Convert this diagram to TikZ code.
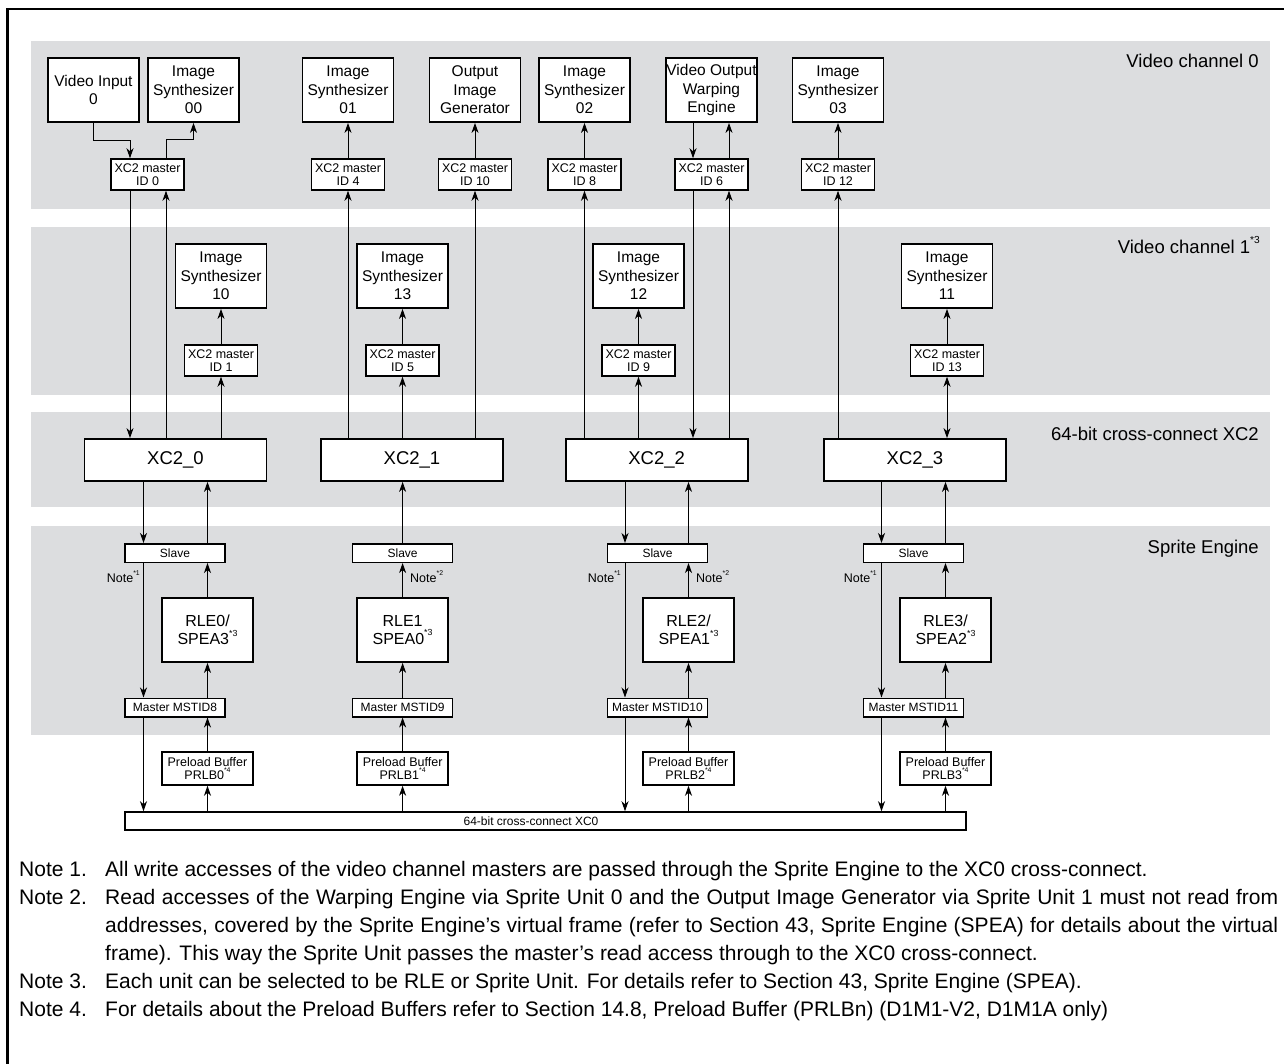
\documentclass[tikz,border=0pt]{standalone}
\usepackage{fontspec}
\setmainfont{Liberation Sans}
\usepackage{tikz}
\usetikzlibrary{arrows.meta, positioning}
\definecolor{bandgray}{RGB}{220,221,223}
\newcommand{\nsup}[1]{\raisebox{0.55em}{\scalebox{0.55}{#1}}}

\begin{document}
\begin{tikzpicture}[x=1pt, y=-1pt,
  band/.style={fill=bandgray},
  unit/.style={draw, line width=1.8pt, fill=white, minimum width=91pt, minimum height=64pt,
               inner sep=0pt, align=center, font=\fontsize{15.5}{18.5}\selectfont},
  mid/.style={draw, line width=1.5pt, fill=white, minimum width=73pt, minimum height=31pt,
              inner sep=0pt, align=center, font=\fontsize{12.5}{12.5}\selectfont},
  xcbox/.style={draw, line width=1.8pt, fill=white, minimum width=182pt, minimum height=42pt,
                inner sep=0pt, font=\fontsize{18.5}{22}\selectfont},
  port/.style={draw, line width=1.5pt, fill=white, minimum width=100pt, minimum height=18.5pt,
               inner sep=0pt, font=\fontsize{12}{14}\selectfont},
  rle/.style={unit, font=\fontsize{16}{18.5}\selectfont},
  plb/.style={mid, minimum width=91pt, minimum height=33pt},
  lbl/.style={inner sep=0pt, anchor=base east, font=\fontsize{18.5}{22}\selectfont},
  tag/.style={inner sep=0pt, font=\fontsize{12.5}{14}\selectfont},
  note/.style={inner sep=0pt, anchor=base west, font=\fontsize{21}{24}\selectfont},
  arr/.style={-{Stealth[length=10pt, width=7pt, inset=3pt]}, line width=0.9pt},
  both/.style={{Stealth[length=10pt, width=7pt, inset=3pt]}-{Stealth[length=10pt, width=7pt, inset=3pt]},
               line width=0.9pt}
]

\useasboundingbox (0,0) rectangle (1284,1064);

%% Frame
\draw[line width=2.5pt, line join=miter] (7.5,1064) -- (7.5,9) -- (1284,9);

%% Bands
\fill[band] (31,41)  rectangle (1270,209);
\fill[band] (31,227) rectangle (1270,395);
\fill[band] (31,412) rectangle (1270,507);
\fill[band] (31,526) rectangle (1270,735);

\node[lbl] (vc0lbl) at (1259,68)  {Video channel 0};
\node[lbl] (vc1lbl) at (1260,254) {Video channel 1\nsup{*3}};
\node[lbl] (xc2lbl) at (1259,440) {64-bit cross-connect XC2};
\node[lbl] (spelbl) at (1259,553) {Sprite Engine};

%% Video channel 0 units
\node[unit] (vin)  at (93.5,90)  {Video Input\\0};
\node[unit] (is00) at (193.5,90) {Image\\Synthesizer\\00};
\node[unit] (is01) at (348,90)   {Image\\Synthesizer\\01};
\node[unit] (oig)  at (475,90)   {Output\\Image\\Generator};
\node[unit] (is02) at (584.5,90) {Image\\Synthesizer\\02};
\node[unit] (vowe) at (711.5,90) {Video Output\\Warping\\Engine};
\node[unit] (is03) at (838,90)   {Image\\Synthesizer\\03};

%% Video channel 0 masters
\node[mid] (id0)  at (147.5,174.5) {XC2 master\\ID 0};
\node[mid] (id4)  at (348,174.5)   {XC2 master\\ID 4};
\node[mid] (id10) at (475,174.5)   {XC2 master\\ID 10};
\node[mid] (id8)  at (584.5,174.5) {XC2 master\\ID 8};
\node[mid] (id6)  at (711.5,174.5) {XC2 master\\ID 6};
\node[mid] (id12) at (838,174.5)   {XC2 master\\ID 12};

%% Video channel 1 units and masters
\node[unit] (is10) at (221,276)   {Image\\Synthesizer\\10};
\node[unit] (is13) at (402.5,276) {Image\\Synthesizer\\13};
\node[unit] (is12) at (638.5,276) {Image\\Synthesizer\\12};
\node[unit] (is11) at (947,276)   {Image\\Synthesizer\\11};
\node[mid] (id1)  at (221,360.5)   {XC2 master\\ID 1};
\node[mid] (id5)  at (402.5,360.5) {XC2 master\\ID 5};
\node[mid] (id9)  at (638.5,360.5) {XC2 master\\ID 9};
\node[mid] (id13) at (947,360.5)   {XC2 master\\ID 13};

%% Cross-connect XC2
\node[xcbox] (xc20) at (175.5,460) {XC2\_0};
\node[xcbox] (xc21) at (412,460)   {XC2\_1};
\node[xcbox] (xc22) at (656.6,460) {XC2\_2};
\node[xcbox] (xc23) at (915,460)   {XC2\_3};

%% Sprite Engine
\node[port] (slave0) at (175,553)   {Slave};
\node[port] (slave1) at (402.6,553) {Slave};
\node[port] (slave2) at (657.5,553) {Slave};
\node[port] (slave3) at (913.5,553) {Slave};
\node[rle] (rle0) at (207.5,630) {RLE0/\\SPEA3\nsup{*3}};
\node[rle] (rle1) at (402.6,630) {RLE1\\SPEA0\nsup{*3}};
\node[rle] (rle2) at (688.5,630) {RLE2/\\SPEA1\nsup{*3}};
\node[rle] (rle3) at (945.5,630) {RLE3/\\SPEA2\nsup{*3}};
\node[port] (mst0) at (175,707.5)   {Master MSTID8};
\node[port] (mst1) at (402.6,707.5) {Master MSTID9};
\node[port] (mst2) at (657.5,707.5) {Master MSTID10};
\node[port] (mst3) at (913.5,707.5) {Master MSTID11};

%% Preload buffers and XC0
\node[plb] (plb0) at (207.5,768.5) {Preload Buffer\\PRLB0\nsup{*4}};
\node[plb] (plb1) at (402.6,768.5) {Preload Buffer\\PRLB1\nsup{*4}};
\node[plb] (plb2) at (688.5,768.5) {Preload Buffer\\PRLB2\nsup{*4}};
\node[plb] (plb3) at (945.5,768.5) {Preload Buffer\\PRLB3\nsup{*4}};
\node[port, minimum width=841pt, minimum height=18pt,
      label={[tag, font=\fontsize{12}{14}\selectfont, xshift=-14.5pt]center:64-bit cross-connect XC0}]
      (xcz) at (545.5,821) {};

%% Line positions
\coordinate (a0) at (130,0);
\coordinate (b0) at (166,0);
\coordinate (a2) at (693,0);
\coordinate (b2) at (729,0);
\coordinate (d0) at (143.5,0);
\coordinate (d2) at (625,0);
\coordinate (d3) at (881.5,0);

%% Video channel 0 arrows
\draw[arr] (vin.south) -- ++(0,18) -| (id0.north -| a0);
\draw[arr] (id0.north -| b0) -- ++(0,-19) -| (is00.south);
\draw[arr] (id4.north) -- (is01.south);
\draw[arr] (id10.north) -- (oig.south);
\draw[arr] (id8.north) -- (is02.south);
\draw[arr] (vowe.south -| a2) -- (id6.north -| a2);
\draw[arr] (id6.north -| b2) -- (vowe.south -| b2);
\draw[arr] (id12.north) -- (is03.south);

%% Video channel 1 arrows
\draw[arr] (id1.north) -- (is10.south);
\draw[arr] (id5.north) -- (is13.south);
\draw[arr] (id9.north) -- (is12.south);
\draw[arr] (id13.north) -- (is11.south);

%% XC2 arrows
\draw[arr] (id0.south -| a0) -- (xc20.north -| a0);
\draw[arr] (xc20.north -| b0) -- (id0.south -| b0);
\draw[arr] (xc20.north -| id1) -- (id1.south);
\draw[arr] (xc21.north -| id4) -- (id4.south);
\draw[arr] (xc21.north -| id5) -- (id5.south);
\draw[arr] (xc21.north -| id10) -- (id10.south);
\draw[arr] (xc22.north -| id8) -- (id8.south);
\draw[arr] (xc22.north -| id9) -- (id9.south);
\draw[arr] (id6.south -| a2) -- (xc22.north -| a2);
\draw[arr] (xc22.north -| b2) -- (id6.south -| b2);
\draw[arr] (xc23.north -| id12) -- (id12.south);
\draw[both] (xc23.north -| id13) -- (id13.south);

%% Sprite Engine arrows
\draw[arr] (xc20.south -| d0) -- (slave0.north -| d0);
\draw[arr] (slave0.north -| rle0) -- (xc20.south -| rle0);
\draw[arr] (slave0.south -| d0) -- (mst0.north -| d0);
\draw[arr] (mst0.south -| d0) -- (xcz.north -| d0);
\draw[arr] (rle0.north) -- (slave0.south -| rle0);
\draw[arr] (mst0.north -| rle0) -- (rle0.south);
\draw[arr] (plb0.north) -- (mst0.south -| plb0);
\draw[arr] (xcz.north -| plb0) -- (plb0.south);

\draw[arr] (slave1.north -| rle1) -- (xc21.south -| rle1);
\draw[arr] (rle1.north) -- (slave1.south -| rle1);
\draw[arr] (mst1.north -| rle1) -- (rle1.south);
\draw[arr] (plb1.north) -- (mst1.south -| plb1);
\draw[arr] (xcz.north -| plb1) -- (plb1.south);

\draw[arr] (xc22.south -| d2) -- (slave2.north -| d2);
\draw[arr] (slave2.north -| rle2) -- (xc22.south -| rle2);
\draw[arr] (slave2.south -| d2) -- (mst2.north -| d2);
\draw[arr] (mst2.south -| d2) -- (xcz.north -| d2);
\draw[arr] (rle2.north) -- (slave2.south -| rle2);
\draw[arr] (mst2.north -| rle2) -- (rle2.south);
\draw[arr] (plb2.north) -- (mst2.south -| plb2);
\draw[arr] (xcz.north -| plb2) -- (plb2.south);

\draw[arr] (xc23.south -| d3) -- (slave3.north -| d3);
\draw[arr] (slave3.north -| rle3) -- (xc23.south -| rle3);
\draw[arr] (slave3.south -| d3) -- (mst3.north -| d3);
\draw[arr] (mst3.south -| d3) -- (xcz.north -| d3);
\draw[arr] (rle3.north) -- (slave3.south -| rle3);
\draw[arr] (mst3.north -| rle3) -- (rle3.south);
\draw[arr] (plb3.north) -- (mst3.south -| plb3);
\draw[arr] (xcz.north -| plb3) -- (plb3.south);

%% Note tags
\node[tag, anchor=east] (tag0)  at (140,577) {Note\nsup{*1}};
\node[tag, anchor=west] (tag1)  at (410,577) {Note\nsup{*2}};
\node[tag, anchor=east] (tag2a) at (621,577) {Note\nsup{*1}};
\node[tag, anchor=west] (tag2b) at (696,577) {Note\nsup{*2}};
\node[tag, anchor=east] (tag3)  at (877,577) {Note\nsup{*1}};

%% Notes
\node[note] (note1) at (19,876)  {Note 1.};
\node[note] (note2) at (19,904)  {Note 2.};
\node[note] (note3) at (19,988)  {Note 3.};
\node[note] (note4) at (19,1016) {Note 4.};
\node[note] (text1)  at (105,876) {All write accesses of the video channel masters are passed through the Sprite Engine to the XC0 cross-connect.};
\node[note] (text2a) at (105,904) {\makebox[1173pt][s]{Read accesses of the Warping Engine via Sprite Unit 0 and the Output Image Generator via Sprite Unit 1 must not read from}};
\node[note] (text2b) at (105,932) {\makebox[1173pt][s]{addresses, covered by the Sprite Engine's virtual frame (refer to Section 43, Sprite Engine (SPEA) for details about the virtual}};
\node[note] (text2c) at (105,960) {frame). This way the Sprite Unit passes the master's read access through to the XC0 cross-connect.};
\node[note] (text3)  at (105,988) {Each unit can be selected to be RLE or Sprite Unit. For details refer to Section 43, Sprite Engine (SPEA).};
\node[note] (text4)  at (105,1016) {For details about the Preload Buffers refer to Section 14.8, Preload Buffer (PRLBn) (D1M1-V2, D1M1A only)};

\end{tikzpicture}
\end{document}
